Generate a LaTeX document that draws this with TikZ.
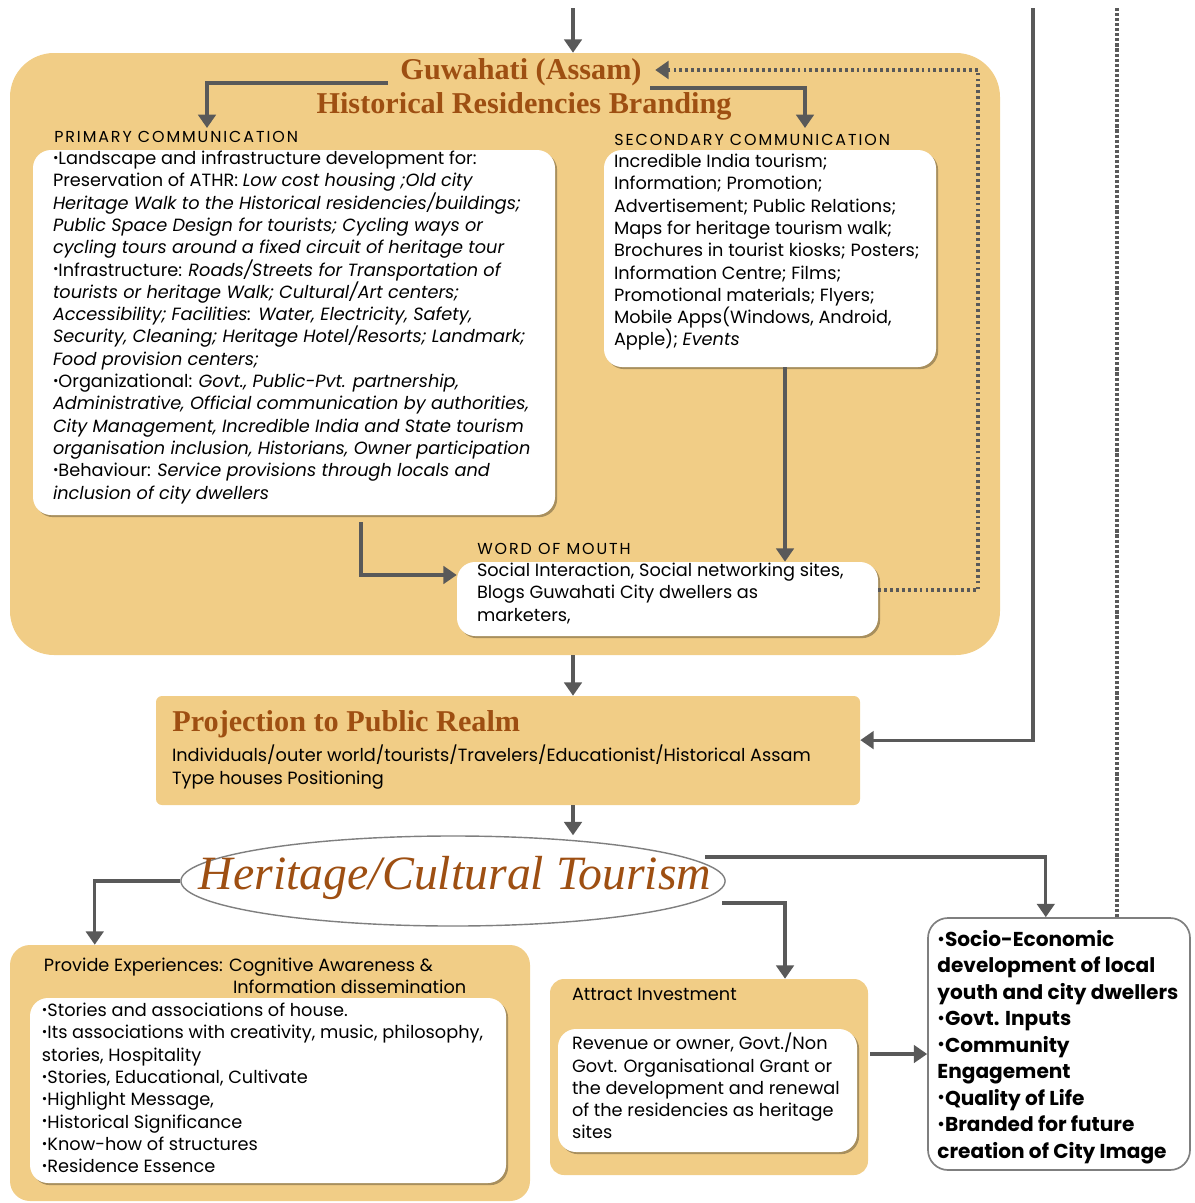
\documentclass[tikz,border=0pt]{standalone}
\usepackage{fontspec}
\setmainfont{Poppins}
\newfontfamily\serifhead{Liberation Serif}
\usetikzlibrary{arrows.meta,fit,shadows,shapes.geometric}

\definecolor{sand}{HTML}{F1CD86}
\definecolor{rust}{HTML}{9E4F12}
\definecolor{linegray}{HTML}{595959}
\definecolor{rimgray}{HTML}{7F7F7F}

% small raised bullet used in the lists
\newcommand\dotmark{\raisebox{0.22ex}{\scalebox{0.75}{\textbullet}}}

\tikzset{
  panel/.style={fill=sand, inner sep=0pt, rounded corners=#1},
  panel/.default=0.25cm,
  card/.style={fill=white, inner sep=0pt, rounded corners=0.45cm,
    drop shadow={shadow xshift=1.5pt, shadow yshift=-1.5pt, opacity=0.3, fill=black}},
  body/.style={anchor=north west, align=left, inner sep=0pt,
    font=\fontsize{12.6}{15.86}\selectfont},
  caps/.style={anchor=base west, inner sep=0pt,
    font=\fontsize{11.3}{13}\selectfont\addfontfeature{LetterSpace=12}},
  heading/.style={inner sep=1pt, text=rust, font=\serifhead\bfseries\fontsize{21.5}{24}\selectfont},
  flow/.style={draw=linegray, line width=2.2pt, -{Triangle[width=12.5pt,length=9.5pt]}},
  backflow/.style={draw=linegray, line width=2.4pt, dash pattern=on 2pt off 2.2pt,
    -{Triangle[width=12.5pt,length=9.5pt]}},
  trace/.style={draw=linegray, line width=2.3pt, dash pattern=on 2.2pt off 1.4pt},
}

\begin{document}
\begin{tikzpicture}[x=0.025cm, y=-0.025cm]
\useasboundingbox (0,0) rectangle (1195,1203);

% --- branding block ---
\node[panel=1.1cm, fit={(10,53) (1000,655)}] (brand) {};
\node[heading] (guw) at (521,72) {Guwahati (Assam)};
\node[heading] (hrb) at (524,106) {Historical Residencies Branding};

\node[card, fit={(33,150) (555,515)}] (prim) {};
\node[caps] (primlbl) at (54,142) {PRIMARY COMMUNICATION};
\node[body] (primtxt) at ([shift={(20,1)}]prim.north west) {%
\dotmark Landscape and infrastructure development for:\\
Preservation of ATHR: \textit{Low cost housing ;Old city}\\
\textit{Heritage Walk to the Historical residencies/buildings;}\\
\textit{Public Space Design for tourists; Cycling ways or}\\
\textit{cycling tours around a fixed circuit of heritage tour}\\
\dotmark Infrastructure: \textit{Roads/Streets for Transportation of}\\
\textit{tourists or heritage Walk; Cultural/Art centers;}\\
\textit{Accessibility; Facilities: Water, Electricity, Safety,}\\
\textit{Security, Cleaning; Heritage Hotel/Resorts; Landmark;}\\
\textit{Food provision centers;}\\
\dotmark Organizational: \textit{Govt., Public-Pvt. partnership,}\\
\textit{Administrative, Official communication by authorities,}\\
\textit{City Management, Incredible India and State tourism}\\
\textit{organisation inclusion, Historians, Owner participation}\\
\dotmark Behaviour: \textit{Service provisions through locals and}\\
\textit{inclusion of city dwellers}};

\node[card, fit={(604,150) (936,367)}] (sec) {};
\node[caps] (seclbl) at (614,145) {SECONDARY COMMUNICATION};
\node[body] (sectxt) at ([shift={(10,4)}]sec.north west) {%
Incredible India tourism;\\
Information; Promotion;\\
Advertisement; Public Relations;\\
Maps for heritage tourism walk;\\
Brochures in tourist kiosks; Posters;\\
Information Centre; Films;\\
Promotional materials; Flyers;\\
Mobile Apps(Windows, Android,\\
Apple); \textit{Events}};

\node[card, fit={(457,562) (878,636)}] (wom) {};
\node[caps] (womlbl) at (477,554) {WORD OF MOUTH};
\node[body] (womtxt) at ([shift={(20,1)}]wom.north west) {%
Social Interaction, Social networking sites,\\
Blogs Guwahati City dwellers as\\
marketers,};

% --- public realm ---
\node[panel=0.15cm, fit={(156,696) (860,805)}] (proj) {};
\node[heading, anchor=base west, inner sep=0pt] (projlbl) at (172,731) {Projection to Public Realm};
\node[body] (projtxt) at ([shift={(16,49)}]proj.north west) {%
Individuals/outer world/tourists/Travelers/Educationist/Historical Assam\\
Type houses Positioning};

\node[ellipse, draw=rimgray, line width=1pt, fill=white, inner sep=0pt,
      minimum width=13.6cm, minimum height=2.25cm] (tour) at (453,881) {};
\node[text=rust, font=\serifhead\itshape\fontsize{34}{40}\selectfont] (tourtxt) at (455,878) {Heritage/Cultural Tourism};

% --- outcomes ---
\node[panel=0.5cm, fit={(10,945) (530,1201)}] (exp) {};
\node[body] (explbl) at ([shift={(34,13)}]exp.north west) {%
Provide Experiences: Cognitive Awareness \&\\
\hspace*{4.725cm}Information dissemination};
\node[card, fit={(30,998) (506,1183)}] (expcard) {};
\node[body] (exptxt) at ([shift={(12,5)}]expcard.north west) {%
\dotmark Stories and associations of house.\\
\dotmark Its associations with creativity, music, philosophy,\\
stories, Hospitality\\
\dotmark Stories, Educational, Cultivate\\
\dotmark Highlight Message,\\
\dotmark Historical Significance\\
\dotmark Know-how of structures\\
\dotmark Residence Essence};

\node[panel=0.35cm, fit={(550,979) (868,1175)}] (inv) {};
\node[body] (invlbl) at ([shift={(22,9)}]inv.north west) {Attract Investment};
\node[card, fit={(558,1029) (857,1152)}] (invcard) {};
\node[body] (invtxt) at ([shift={(14,4)}]invcard.north west) {%
Revenue or owner, Govt./Non\\
Govt. Organisational Grant or\\
the development and renewal\\
of the residencies as heritage\\
sites};

\node[fit={(928,918) (1190,1170)}, draw=rimgray, line width=1.2pt, fill=white,
      rounded corners=0.5cm, inner sep=0pt] (gain) {};
\node[body, font=\bfseries\fontsize{14.3}{18.8}\selectfont] (gaintxt) at ([shift={(10,13)}]gain.north west) {%
\dotmark Socio-Economic\\
development of local\\
youth and city dwellers\\
\dotmark Govt. Inputs\\
\dotmark Community\\
Engagement\\
\dotmark Quality of Life\\
\dotmark Branded for future\\
creation of City Image};

% --- connectors ---
\coordinate (feedA) at (573,8);
\coordinate (feedB) at (1033,8);
\coordinate (feedC) at (1117,8);
\coordinate (trunk) at (573,0);
\coordinate (splitL) at (388,83);
\coordinate (splitR) at (650,88);
\coordinate (primin) at (207,128);
\coordinate (secin) at (805,128);
\coordinate (loopturn) at (978,70);
\coordinate (loopend) at ([xshift=0.3cm]guw.east);
\coordinate (secdrop) at ([xshift=0.375cm]sec.south);
\coordinate (primdrop) at (361,522);
\coordinate (tourR) at (705,857);
\coordinate (tourS) at (722,903);
\coordinate (invout) at ([shift={(2,-23)}]inv.east);

\draw[flow] (feedA) -- (feedA |- brand.north);
\draw[flow] (feedB) |- ([yshift=0.26cm]proj.east);
\draw[trace] (feedC) -- (feedC |- gain.north);

\draw[flow] (splitL) -| (primin);
\draw[flow] (splitR) -| (secin);
\draw[flow] (secdrop) -- (secdrop |- wom.north);
\draw[flow] (primdrop) |- ([yshift=0.6cm]wom.west);
\draw[backflow] ([yshift=0.225cm]wom.east) -| (loopturn) -- (loopturn -| loopend);

\draw[flow] (brand.south -| trunk) -- (proj.north -| trunk);
\draw[flow] (proj.south -| trunk) -- (tour.north -| trunk);

\draw[flow] (tour.west) -| ([xshift=2.125cm]exp.north west);
\draw[flow] (tourR) -| ([xshift=-0.33cm]gain.north);
\draw[flow] (tourS) -| ([xshift=1.9cm]inv.north);
\draw[flow] (invout) -- (invout -| gain.west);
\end{tikzpicture}
\end{document}
